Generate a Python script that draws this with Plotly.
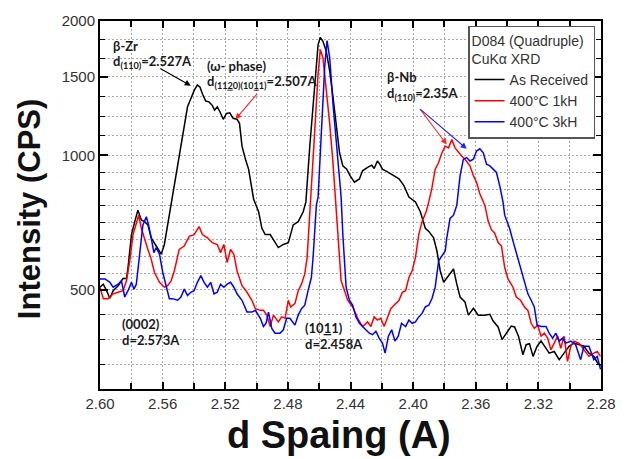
import numpy as np
import plotly.graph_objects as go

# ---------------- data ----------------
black_d = [2.6000, 2.5979, 2.5958, 2.5937, 2.5916, 2.5884, 2.5853, 2.5831, 2.5821, 2.5799,
           2.5778, 2.5758, 2.5736, 2.5715, 2.5694, 2.5673, 2.5641, 2.5609, 2.5589, 2.5568,
           2.5546, 2.5525, 2.5494, 2.5462, 2.5441, 2.5420, 2.5399, 2.5378, 2.5361, 2.5346,
           2.5325, 2.5304, 2.5283, 2.5268, 2.5251, 2.5234, 2.5213, 2.5192, 2.5171, 2.5150,
           2.5125, 2.5109, 2.5093, 2.5071, 2.5051, 2.5019, 2.4987, 2.4966, 2.4945, 2.4913,
           2.4882, 2.4861, 2.4829, 2.4797, 2.4766, 2.4734, 2.4702, 2.4685, 2.4660, 2.4628,
           2.4607, 2.4593, 2.4576, 2.4555, 2.4533, 2.4512, 2.4487, 2.4470, 2.4449, 2.4424,
           2.4403, 2.4375, 2.4343, 2.4323, 2.4291, 2.4264, 2.4249, 2.4228, 2.4213, 2.4196,
           2.4164, 2.4122, 2.4090, 2.4059, 2.4027, 2.3985, 2.3954, 2.3932, 2.3922, 2.3900,
           2.3869, 2.3848, 2.3827, 2.3805, 2.3774, 2.3742, 2.3721, 2.3700, 2.3669, 2.3647,
           2.3615, 2.3584, 2.3542, 2.3510, 2.3489, 2.3457, 2.3432, 2.3405, 2.3373, 2.3352,
           2.3327, 2.3299, 2.3278, 2.3257, 2.3234, 2.3208, 2.3183, 2.3151, 2.3131, 2.3099,
           2.3067, 2.3036, 2.3004, 2.2972, 2.2941, 2.2909, 2.2877, 2.2846, 2.2824, 2.2803]
black_I = [507, 515, 498, 479, 498, 511, 530, 530, 561, 665,
           711, 754, 717, 711, 699, 654, 627, 601, 632, 699,
           774, 855, 1014, 1180, 1285, 1340, 1397, 1439, 1421, 1374,
           1324, 1318, 1295, 1263, 1285, 1253, 1205, 1242, 1246, 1211,
           1205, 1180, 1049, 981, 932, 799, 748, 687, 665, 665,
           638, 622, 632, 638, 699, 711, 748, 787, 1049, 1470,
           1771, 1838, 1801, 1712, 1547, 1352, 1141, 1014, 948, 932,
           901, 871, 886, 924, 940, 951, 935, 972, 956, 932,
           919, 901, 886, 856, 807, 787, 748, 705, 687, 676,
           654, 611, 552, 520, 538, 557, 515, 482, 470, 439,
           455, 439, 439, 441, 426, 413, 387, 400, 415, 413,
           394, 358, 377, 379, 355, 374, 384, 370, 361, 364,
           349, 361, 374, 380, 377, 374, 361, 355, 344, 338]

red_d = [2.6000, 2.5979, 2.5947, 2.5916, 2.5884, 2.5853, 2.5831, 2.5810, 2.5789, 2.5768,
         2.5753, 2.5736, 2.5715, 2.5694, 2.5673, 2.5652, 2.5620, 2.5589, 2.5568, 2.5546,
         2.5525, 2.5494, 2.5462, 2.5430, 2.5399, 2.5367, 2.5346, 2.5314, 2.5283, 2.5251,
         2.5230, 2.5209, 2.5188, 2.5166, 2.5145, 2.5125, 2.5093, 2.5061, 2.5030, 2.5008,
         2.4976, 2.4956, 2.4935, 2.4913, 2.4892, 2.4861, 2.4840, 2.4818, 2.4797, 2.4783,
         2.4755, 2.4734, 2.4713, 2.4692, 2.4677, 2.4660, 2.4650, 2.4628, 2.4607, 2.4593,
         2.4576, 2.4555, 2.4533, 2.4512, 2.4495, 2.4481, 2.4460, 2.4438, 2.4418, 2.4386,
         2.4354, 2.4323, 2.4291, 2.4270, 2.4249, 2.4228, 2.4207, 2.4185, 2.4164, 2.4143,
         2.4122, 2.4090, 2.4069, 2.4048, 2.4027, 2.4006, 2.3985, 2.3964, 2.3943, 2.3917,
         2.3900, 2.3879, 2.3859, 2.3837, 2.3816, 2.3795, 2.3774, 2.3753, 2.3732, 2.3710,
         2.3690, 2.3669, 2.3637, 2.3615, 2.3595, 2.3574, 2.3542, 2.3520, 2.3500, 2.3479,
         2.3457, 2.3436, 2.3415, 2.3394, 2.3362, 2.3341, 2.3314, 2.3289, 2.3267, 2.3246,
         2.3226, 2.3204, 2.3183, 2.3162, 2.3141, 2.3120, 2.3099, 2.3077, 2.3057, 2.3036,
         2.3014, 2.2993, 2.2972, 2.2941, 2.2909, 2.2877, 2.2846, 2.2824, 2.2803]
red_I = [507, 478, 478, 490, 494, 498, 524, 581, 665, 711,
         735, 687, 648, 616, 586, 547, 520, 507, 511, 524,
         552, 616, 627, 659, 665, 693, 665, 654, 638, 632,
         606, 632, 576, 616, 601, 552, 511, 494, 474, 454,
         450, 450, 439, 414, 439, 424, 435, 432, 474, 458,
         466, 498, 515, 543, 591, 761, 828, 1141, 1521, 1727,
         1656, 1421, 1180, 964, 787, 643, 524, 498, 474, 458,
         432, 414, 424, 414, 435, 428, 432, 414, 435, 454,
         462, 474, 494, 498, 533, 552, 591, 665, 711, 748,
         787, 849, 932, 964, 1014, 1049, 1040, 1085, 1040, 1014,
         997, 981, 948, 901, 871, 821, 774, 711, 682, 670,
         638, 627, 561, 529, 507, 482, 474, 458, 450, 421,
         410, 417, 394, 400, 390, 367, 380, 394, 370, 394,
         346, 374, 384, 380, 367, 355, 361, 364, 355]

blue_d = [2.6000, 2.5968, 2.5937, 2.5916, 2.5884, 2.5863, 2.5842, 2.5821, 2.5799, 2.5783,
          2.5768, 2.5747, 2.5726, 2.5704, 2.5690, 2.5673, 2.5656, 2.5641, 2.5620, 2.5599,
          2.5578, 2.5557, 2.5536, 2.5504, 2.5483, 2.5462, 2.5441, 2.5420, 2.5399, 2.5378,
          2.5356, 2.5335, 2.5314, 2.5293, 2.5272, 2.5251, 2.5230, 2.5209, 2.5188, 2.5166,
          2.5145, 2.5125, 2.5093, 2.5061, 2.5030, 2.5008, 2.4976, 2.4956, 2.4939, 2.4924,
          2.4903, 2.4882, 2.4850, 2.4829, 2.4808, 2.4787, 2.4755, 2.4734, 2.4713, 2.4692,
          2.4671, 2.4650, 2.4639, 2.4628, 2.4618, 2.4607, 2.4587, 2.4565, 2.4550, 2.4533,
          2.4512, 2.4492, 2.4474, 2.4460, 2.4449, 2.4428, 2.4407, 2.4386, 2.4365, 2.4343,
          2.4323, 2.4302, 2.4280, 2.4259, 2.4238, 2.4217, 2.4196, 2.4179, 2.4158, 2.4137,
          2.4116, 2.4095, 2.4074, 2.4048, 2.4027, 2.4006, 2.3985, 2.3964, 2.3943, 2.3922,
          2.3900, 2.3879, 2.3859, 2.3837, 2.3816, 2.3795, 2.3785, 2.3764, 2.3742, 2.3721,
          2.3700, 2.3679, 2.3658, 2.3637, 2.3615, 2.3595, 2.3574, 2.3552, 2.3531, 2.3510,
          2.3489, 2.3468, 2.3447, 2.3426, 2.3415, 2.3384, 2.3362, 2.3331, 2.3310, 2.3289,
          2.3267, 2.3246, 2.3226, 2.3208, 2.3183, 2.3151, 2.3131, 2.3109, 2.3088, 2.3067,
          2.3046, 2.3025, 2.2993, 2.2962, 2.2930, 2.2909, 2.2877, 2.2846, 2.2824, 2.2803]
blue_I = [529, 529, 520, 507, 515, 524, 482, 498, 520, 502,
          515, 611, 699, 729, 699, 654, 606, 622, 601, 547,
          507, 478, 478, 474, 482, 502, 486, 494, 498, 520,
          538, 520, 507, 520, 490, 494, 515, 507, 515, 520,
          507, 490, 474, 446, 446, 450, 432, 414, 421, 446,
          410, 400, 400, 407, 432, 432, 417, 439, 454, 462,
          498, 533, 591, 699, 774, 807, 1141, 1574, 1807, 1656,
          1306, 1085, 948, 807, 665, 507, 474, 462, 435, 421,
          414, 407, 400, 397, 404, 390, 380, 361, 394, 407,
          384, 394, 421, 414, 428, 421, 424, 435, 443, 458,
          462, 479, 507, 581, 596, 611, 654, 723, 735, 774,
          901, 981, 989, 972, 981, 1023, 1035, 1014, 956, 948,
          932, 916, 856, 787, 735, 687, 643, 591, 557, 524,
          490, 474, 458, 417, 414, 414, 400, 390, 400, 384,
          390, 380, 384, 377, 349, 374, 374, 349, 355, 332]

series_names = ["As Received", "400°C 1kH", "400°C 3kH"]
series_colors = ["#000000", "#ff0000", "#0000ff"]

x_ticks = [2.60, 2.56, 2.52, 2.48, 2.44, 2.40, 2.36, 2.32, 2.28]
x_ticklabels = ["2.60", "2.56", "2.52", "2.48", "2.44", "2.40", "2.36", "2.32", "2.28"]
y_ticks = [500, 1000, 1500, 2000]
y_ticklabels = ["500", "1000", "1500", "2000"]
y_min, y_max = 300, 2000

# minor (dotted) grid values on the log axis, evenly spaced between majors
def even_log(a, b, n):
    return [a * (b / a) ** (k / n) for k in range(1, n)]

y_minor = (even_log(y_min, 500, 4) + even_log(500, 1000, 8)
           + even_log(1000, 1500, 4) + even_log(1500, 2000, 3))

# ---------------- figure ----------------
fig = go.Figure()
for d, I, name, col in zip([black_d, red_d, blue_d], [black_I, red_I, blue_I],
                           series_names, series_colors):
    fig.add_trace(go.Scatter(x=d, y=I, mode="lines", name=name,
                             line=dict(color=col, width=1.5)))

grid_col = "#a9a9a9"
grid_dash = "2px,2px"
fig.update_xaxes(
    range=[2.60, 2.28], tickmode="array", tickvals=x_ticks, ticktext=x_ticklabels,
    ticks="inside", ticklen=7, tickwidth=1.5, tickcolor="black",
    showline=True, linecolor="black", linewidth=2, mirror="allticks",
    showgrid=True, gridcolor=grid_col, griddash=grid_dash, gridwidth=1,
    zeroline=False,
    minor=dict(dtick=0.02, tick0=2.28, ticks="inside", ticklen=6, tickwidth=1.5,
               tickcolor="black", showgrid=True, gridcolor=grid_col,
               griddash=grid_dash, gridwidth=1),
    tickfont=dict(family="Liberation Sans, Arial, sans-serif", size=15, color="#333333"),
)
fig.update_yaxes(
    type="log", range=[np.log10(y_min), np.log10(y_max)],
    tickmode="array", tickvals=y_ticks, ticktext=y_ticklabels,
    ticks="inside", ticklen=8, tickwidth=1.5, tickcolor="black",
    showline=True, linecolor="black", linewidth=2, mirror="allticks",
    showgrid=True, gridcolor=grid_col, griddash=grid_dash, gridwidth=1,
    zeroline=False,
    minor=dict(tickmode="array", tickvals=y_minor, ticks="inside", ticklen=5,
               tickwidth=1.2, tickcolor="black", showgrid=True,
               gridcolor=grid_col, griddash=grid_dash, gridwidth=1),
    tickfont=dict(family="Liberation Sans, Arial, sans-serif", size=15, color="#333333"),
)

W, H = 628, 459
ML, MR, MT, MB = 100, 22, 16, 70
PW, PH = W - ML - MR, H - MT - MB

def px(xp):
    return (xp - ML) / PW

def py(yp):
    return (H - MB - yp) / PH

ann_font = dict(family="Lato, Open Sans, sans-serif", size=13, color="#1a1a1a")
texts = [
    ("<b>β-Zr</b>", 111, 41),
    ("<b>d<sub>(110)</sub>=2.527A</b>", 111, 58),
    ("<b>(ω- phase)</b>", 206, 62),
    ("<b>d<sub>(11<u>2</u>0)(10<u>1</u>1)</sub>=2.507A</b>", 206, 78),
    ("<b>β-Nb</b>", 388, 73),
    ("<b>d<sub>(110)</sub>=2.35A</b>", 388, 90),
    ("<b>(0002)</b>", 120, 323),
    ("<b>d=2.573A</b>", 120, 339),
    ("<b>(10<u>1</u>1)</b>", 305, 327),
    ("<b>d=2.458A</b>", 305, 343),
]
for t, x0, y0 in texts:
    fig.add_annotation(text=t, xref="paper", yref="paper", x=px(x0), y=py(y0),
                       xanchor="left", yanchor="middle", showarrow=False,
                       font=ann_font)

# arrows: tip in data coordinates, tail as pixel offset
arrows = [
    (2.5420, 1433, -32, -18, "#000000"),
    (2.5135, 1205, 23, -27, "#ff2020"),
    (2.3785, 1058, -28, -37, "#ff2020"),
    (2.3658, 1035, -48, -41, "#2020ff"),
]
for xd, yd, axp, ayp, col in arrows:
    fig.add_annotation(x=xd, y=np.log10(yd), xref="x", yref="y", ax=axp, ay=ayp,
                       text="", showarrow=True, arrowhead=2, arrowsize=1.1,
                       arrowwidth=1.1, arrowcolor=col)

# axis titles
title_font = "Liberation Sans, Arial, sans-serif"
fig.add_annotation(text="<b>d Spaing (A)</b>", xref="paper", yref="paper",
                   x=px(341), y=py(436), xanchor="center", yanchor="middle",
                   showarrow=False, font=dict(family=title_font, size=38, color="#111111"))
fig.add_annotation(text="<b>Intensity (CPS)</b>", xref="paper", yref="paper",
                   x=px(29), y=py(207), xanchor="center", yanchor="middle", textangle=-90,
                   showarrow=False, font=dict(family=title_font, size=31, color="#111111"))

fig.update_layout(
    width=W, height=H, margin=dict(l=ML, r=MR, t=MT, b=MB),
    paper_bgcolor="white", plot_bgcolor="white",
    font=dict(family="Liberation Sans, Arial, sans-serif", color="#333333"),
    showlegend=True,
    legend=dict(x=px(600), y=py(21), xanchor="right", yanchor="top",
                bgcolor="white", bordercolor="#555555", borderwidth=1.5,
                font=dict(family="Liberation Sans, Arial, sans-serif", size=14, color="#333333"),
                title=dict(text="D084 (Quadruple)<br>CuKα XRD",
                           font=dict(family="Liberation Sans, Arial, sans-serif", size=14,
                                     color="#333333")),
                itemwidth=30, tracegroupgap=0),
)

fig.write_html("out.html")
